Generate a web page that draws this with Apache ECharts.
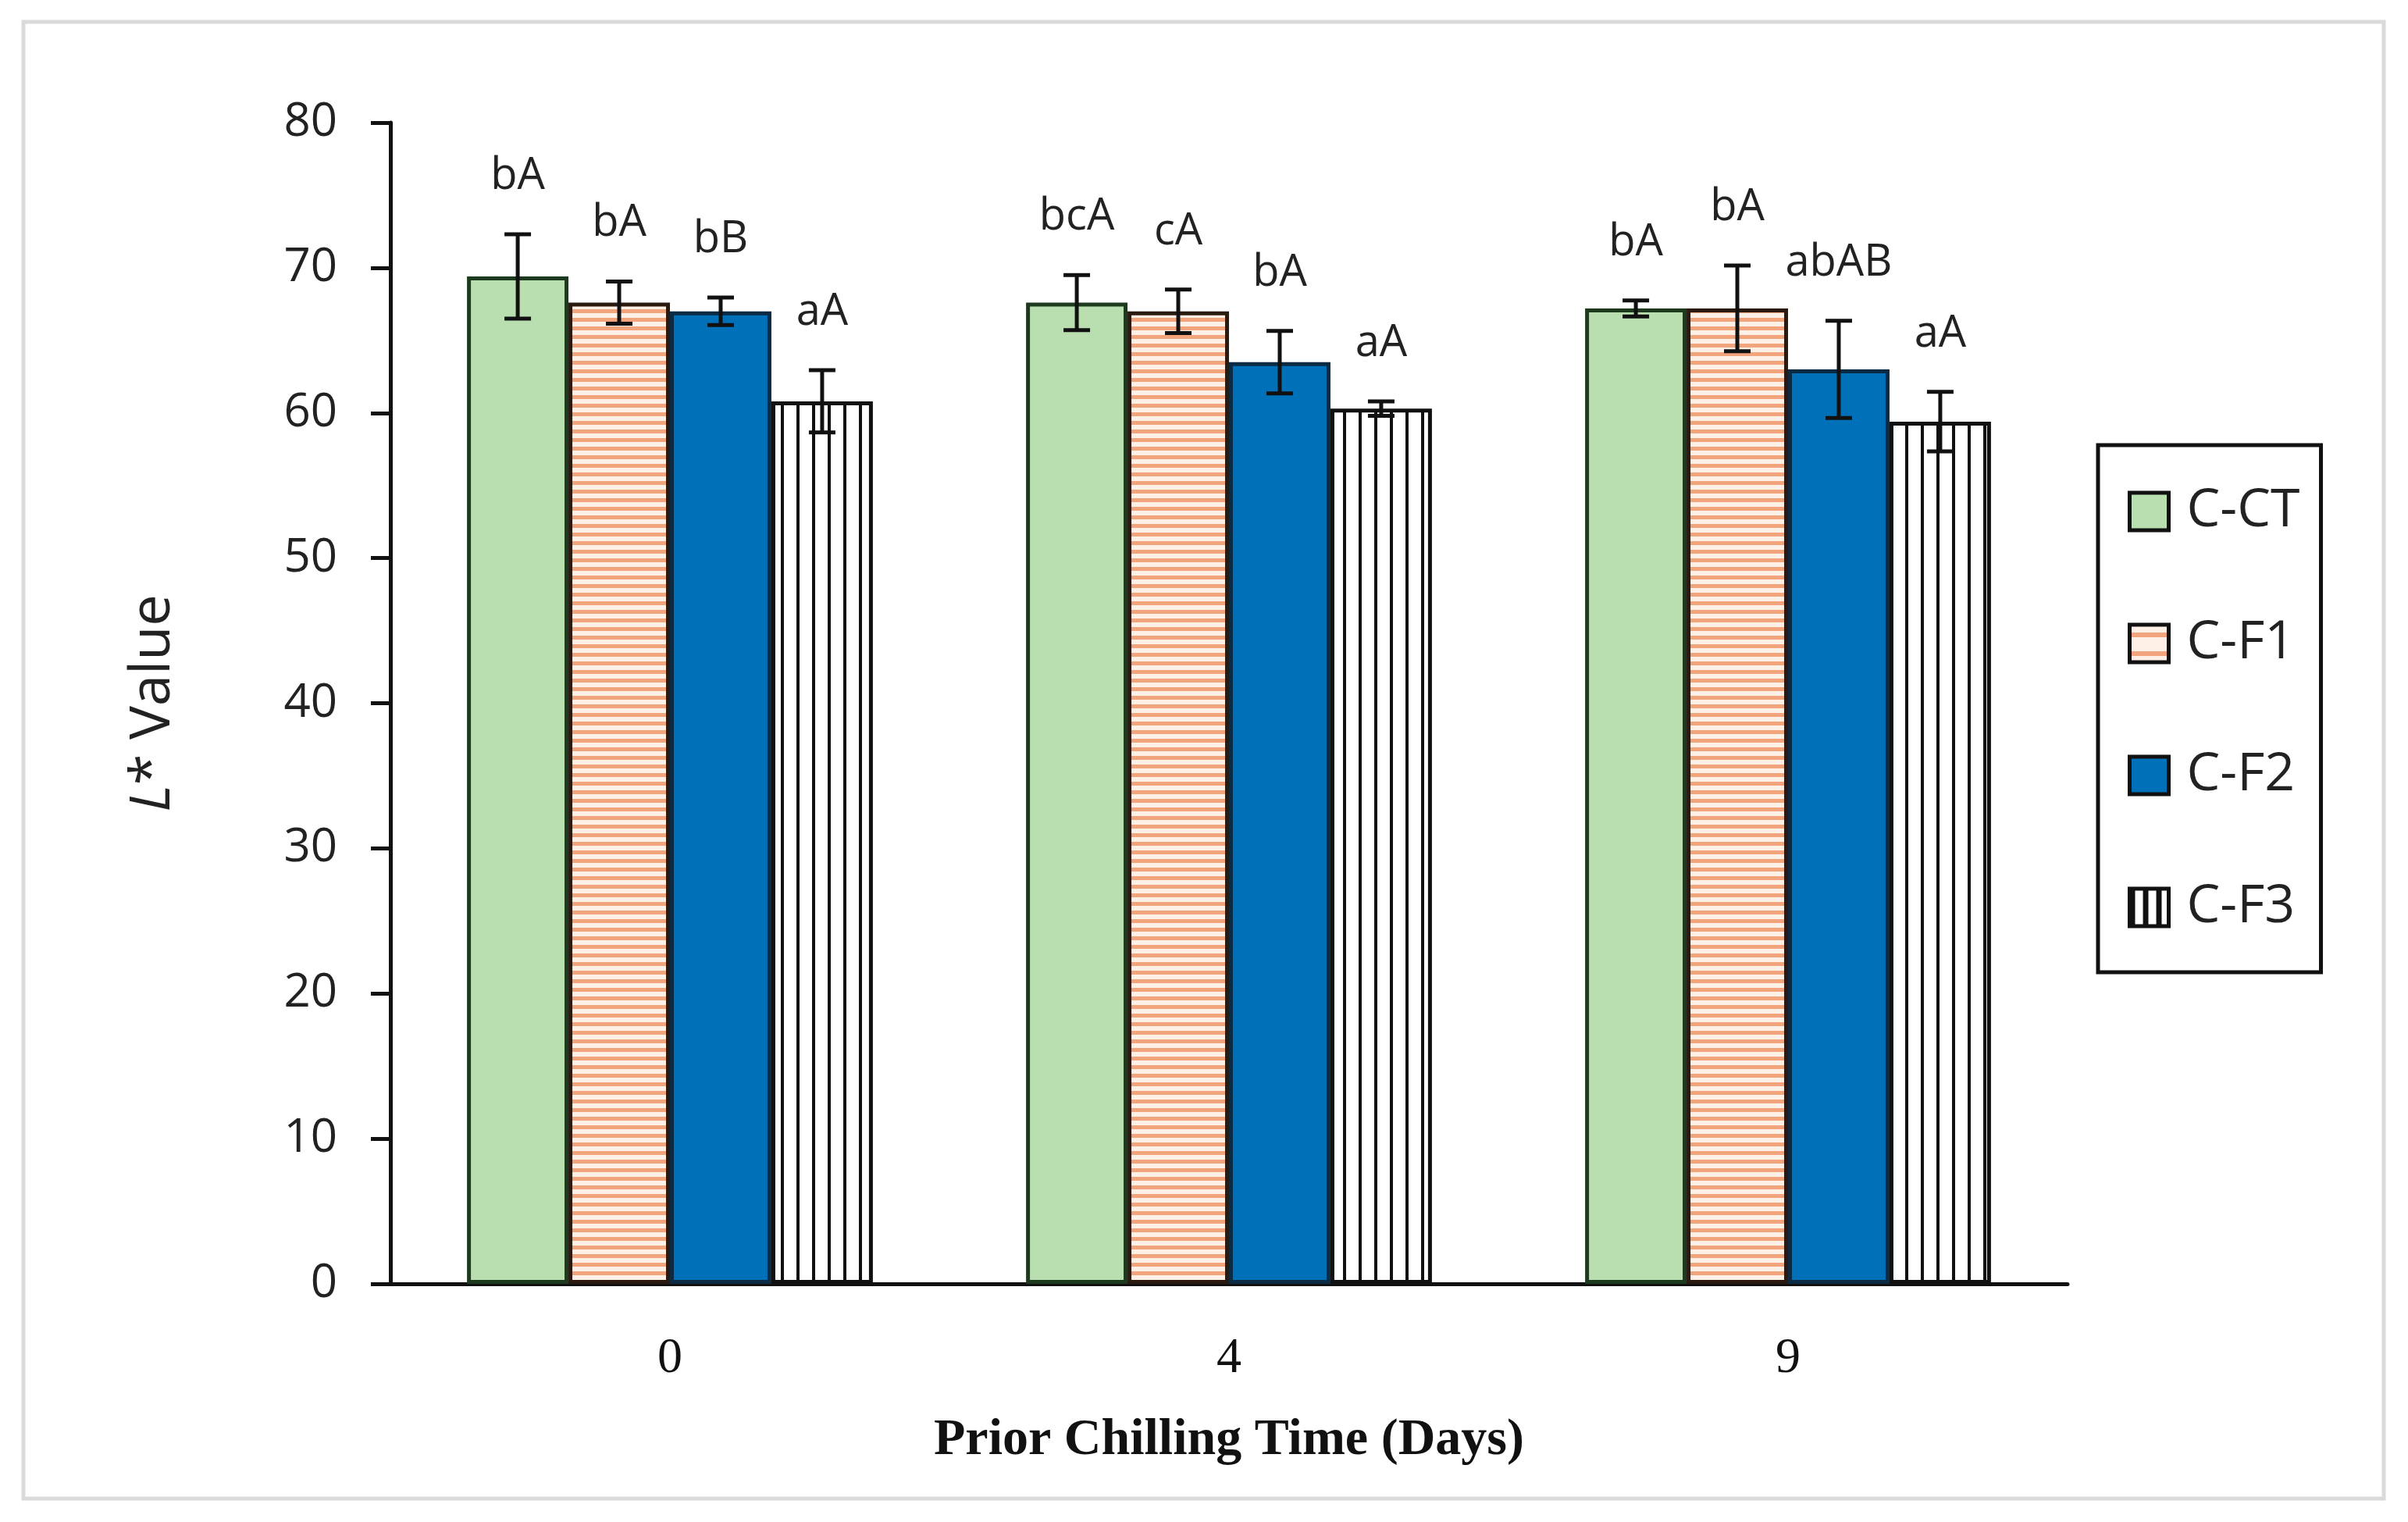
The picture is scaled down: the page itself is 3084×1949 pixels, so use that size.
<!DOCTYPE html>
<html>
<head>
<meta charset="utf-8">
<script src="https://cdn.jsdelivr.net/npm/echarts@6/dist/echarts.min.js"></script>
<style>html,body{margin:0;padding:0;background:#fff;}#c{width:3084px;height:1949px;}</style>
</head>
<body>
<div id="c"></div>
<script>
// ---- data ----
const categories = ['0', '4', '9'];
const seriesNames = ['C-CT', 'C-F1', 'C-F2', 'C-F3'];
const meanCT = [69.4, 67.6, 67.2];
const meanF1 = [67.6, 67.0, 67.2];
const meanF2 = [67.0, 63.5, 63.0];
const meanF3 = [60.8, 60.3, 59.4];
const errCT = [2.9, 1.9, 0.55];
const errF1 = [1.45, 1.5, 2.95];
const errF2 = [0.95, 2.15, 3.35];
const errF3 = [2.15, 0.5, 2.05];
const letCT = ['bA', 'bcA', 'bA'];
const letF1 = ['bA', 'cA', 'bA'];
const letF2 = ['bB', 'bA', 'abAB'];
const letF3 = ['aA', 'aA', 'aA'];
const yTicks = {min: 0, max: 80, interval: 10};

const means = [meanCT, meanF1, meanF2, meanF3];
const errs = [errCT, errF1, errF2, errF3];
const letters = [letCT, letF1, letF2, letF3];

function makeCanvas(w, h, draw) {
  const c = document.createElement('canvas');
  c.width = w; c.height = h;
  draw(c.getContext('2d'));
  return c;
}
const stripeH = makeCanvas(8, 11, ctx => {
  ctx.fillStyle = '#FEF0E6'; ctx.fillRect(0, 0, 8, 11);
  ctx.fillStyle = '#F2A57C'; ctx.fillRect(0, 0, 8, 5);
});
const stripeV = makeCanvas(20, 8, ctx => {
  ctx.fillStyle = '#FFFFFF'; ctx.fillRect(0, 0, 20, 8);
  ctx.fillStyle = '#111111'; ctx.fillRect(0, 0, 4, 8);
});
const legendV = makeCanvas(17, 8, ctx => {
  ctx.fillStyle = '#FFFFFF'; ctx.fillRect(0, 0, 17, 8);
  ctx.fillStyle = '#111111'; ctx.fillRect(0, 0, 7, 8);
});
const legendH = makeCanvas(8, 24, ctx => {
  ctx.fillStyle = '#FEF0E6'; ctx.fillRect(0, 0, 8, 24);
  ctx.fillStyle = '#F2A57C'; ctx.fillRect(0, 10, 8, 6);
});

const fills = [
  '#B9DFB0',
  {image: stripeH, repeat: 'repeat'},
  '#0071B9',
  {image: stripeV, repeat: 'repeat'}
];
const borders = ['#1E3A1E', '#2A1A10', '#0B2A44', '#111111'];
const legendFills = ['#B9DFB0', {image: legendH, repeat: 'repeat'}, '#0071B9', {image: legendV, repeat: 'repeat'}];
const GAP = 0.274;
const SANS = 'Open Sans';

const barSeries = seriesNames.map((n, k) => ({
  name: n,
  type: 'bar',
  data: means[k],
  barGap: '0%',
  barCategoryGap: (GAP * 100) + '%',
  itemStyle: {color: fills[k], borderColor: borders[k], borderWidth: 5},
  z: 2
}));

const errSeries = seriesNames.map((n, k) => ({
  name: n,
  type: 'custom',
  z: 5,
  data: categories.map((c, i) => [i, means[k][i], errs[k][i]]),
  renderItem: function (params, api) {
    const ci = api.value(0), m = api.value(1), e = api.value(2);
    const bandW = api.size([1, 0])[0];
    const barW = bandW * (1 - GAP) / 4;
    const x = api.coord([ci, m])[0] + (k - 1.5) * barW;
    const top = api.coord([ci, m + e])[1];
    const bot = api.coord([ci, m - e])[1];
    const cap = 17;
    const ls = {stroke: '#111', lineWidth: 5};
    return {
      type: 'group',
      children: [
        {type: 'line', shape: {x1: x, y1: top, x2: x, y2: bot}, style: ls},
        {type: 'line', shape: {x1: x - cap, y1: top, x2: x + cap, y2: top}, style: ls},
        {type: 'line', shape: {x1: x - cap, y1: bot, x2: x + cap, y2: bot}, style: ls},
        {type: 'text', style: {text: letters[k][params.dataIndex], x: x, y: top - 74,
          align: 'center', verticalAlign: 'middle',
          font: '56px "' + SANS + '"', fill: '#222'}}
      ]
    };
  }
}));

const chart = echarts.init(document.getElementById('c'), null, {renderer: 'canvas'});
chart.setOption({
  animation: false,
  backgroundColor: '#fff',
  graphic: [{
    type: 'rect', shape: {x: 30, y: 28, width: 3023, height: 1891},
    style: {fill: 'none', stroke: '#DADADA', lineWidth: 5}, z: -1
  }],
  grid: {left: 500, right: 436, top: 157, bottom: 305},
  legend: {
    orient: 'vertical', left: 2687, top: 570,
    padding: [51, 27, 49, 38],
    itemWidth: 50, itemHeight: 48, itemGap: 101,
    borderColor: '#111', borderWidth: 5, backgroundColor: '#fff',
    icon: 'rect',
    textStyle: {fontFamily: SANS, fontSize: 68, color: '#222', padding: [0, 0, 0, 18]},
    data: seriesNames.map((n, k) => ({name: n, itemStyle: {color: legendFills[k], borderColor: '#111', borderWidth: 5}}))
  },
  xAxis: {
    type: 'category', data: categories,
    axisLine: {lineStyle: {color: '#111', width: 5}},
    axisTick: {show: false},
    axisLabel: {fontFamily: 'Liberation Serif', fontSize: 64, color: '#111', margin: 64},
    name: 'Prior Chilling Time (Days)', nameLocation: 'middle', nameGap: 168,
    nameTextStyle: {fontFamily: 'Liberation Serif', fontWeight: 'bold', fontSize: 66, color: '#111'}
  },
  yAxis: {
    type: 'value', min: yTicks.min, max: yTicks.max, interval: yTicks.interval,
    axisLine: {show: true, lineStyle: {color: '#111', width: 5}},
    axisTick: {show: true, inside: false, length: 25, lineStyle: {color: '#111', width: 5}},
    splitLine: {show: false},
    axisLabel: {fontFamily: SANS, fontSize: 60, color: '#222', margin: 68},
    name: '{it|L}* Value', nameLocation: 'middle', nameGap: 268,
    nameTextStyle: {fontFamily: SANS, fontSize: 72, color: '#222',
      rich: {it: {fontFamily: SANS, fontStyle: 'italic', fontSize: 72, color: '#222'}}}
  },
  series: barSeries.concat(errSeries)
});
</script>
</body>
</html>
